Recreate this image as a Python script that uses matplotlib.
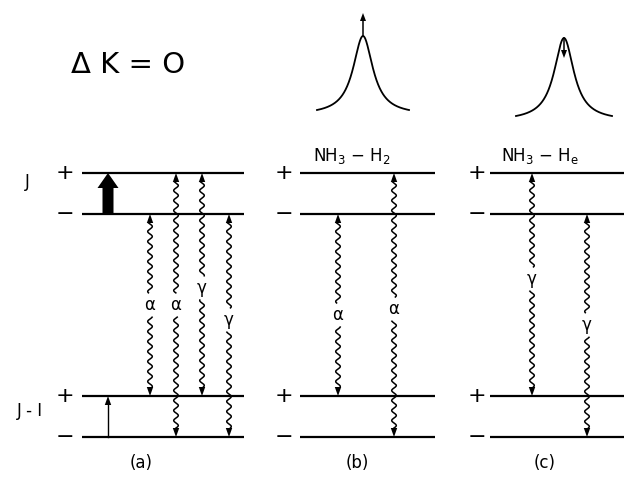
import numpy as np
import matplotlib
matplotlib.use("Agg")
import matplotlib.pyplot as plt
from matplotlib.patches import Polygon

# energy levels (top to bottom) and their vertical position on the page
levels = ["J+", "J-", "J-1+", "J-1-"]
level_y = [173, 214, 396, 437]
level_sign = ["+", "−", "+", "−"]

# panels: horizontal extent of the level lines and x of the +/- signs
panel_names = ["(a)", "(b)", "(c)"]
panel_x0 = [82, 300, 490]
panel_x1 = [244, 435, 624]
sign_x = [65, 284, 477]
panel_label_x = [141, 357, 545]
panel_titles = ["", r"NH$_3$ $-$ H$_2$", r"NH$_3$ $-$ H$_\mathrm{e}$"]
title_x = [0, 352, 540]

# relaxation (wavy) transitions: panel, x, upper level, lower level, label, label y
wavy_panel = [0, 0, 0, 0, 1, 1, 2, 2]
wavy_x = [150, 176, 202, 229, 338, 394, 532, 587]
wavy_top = ["J-", "J+", "J+", "J-", "J-", "J+", "J+", "J-"]
wavy_bot = ["J-1+", "J-1-", "J-1+", "J-1-", "J-1+", "J-1-", "J-1+", "J-1-"]
wavy_label = ["α", "α", "γ", "γ", "α", "α", "γ", "γ"]
wavy_label_y = [305, 305, 288, 320, 315, 309, 279, 325]

# line-shape sketches above (b) and (c): centre, half width, top, base
peak_cx = [363, 564]
peak_w = [12, 12]
peak_top = [36, 38]
peak_base = [110, 116]
peak_span = [46, 48]
peak_arrow_end = [13, 58]

fig = plt.figure(figsize=(6.25, 4.92), dpi=100)
ax = fig.add_axes([0, 0, 1, 1])
ax.set_xlim(0, 625)
ax.set_ylim(492, 0)
ax.axis("off")

lw = 1.6


def head(x, y, up, size=9, half=3.2):
    # small filled arrow head with tip at (x, y)
    d = size if up else -size
    ax.add_patch(Polygon([(x, y), (x - half, y + d), (x + half, y + d)],
                         closed=True, color="black", lw=0))


ly = dict(zip(levels, level_y))

# level lines and signs
for p in range(3):
    for yv, s in zip(level_y, level_sign):
        ax.plot([panel_x0[p], panel_x1[p]], [yv, yv], color="black", lw=lw,
                solid_capstyle="butt")
        ax.text(sign_x[p], yv, s, fontsize=16, ha="center", va="center")
    ax.text(panel_label_x[p], 463, panel_names[p], fontsize=12,
            ha="center", va="center")
    if panel_titles[p]:
        ax.text(title_x[p], 156, panel_titles[p], fontsize=12,
                ha="center", va="center")

ax.text(27, 182, "J", fontsize=12, ha="center", va="center")
ax.text(30, 411, "J - I", fontsize=12, ha="center", va="center")
ax.text(128, 65, "Δ K = O", fontsize=21, ha="center", va="center")

# pump arrow (thick) and signal arrow (thin) in (a)
ax.arrow(108, ly["J-"], 0, ly["J+"] - ly["J-"], width=11, head_width=21,
         head_length=15, length_includes_head=True, color="black", lw=0)
ax.plot([108, 108], [ly["J-1-"], ly["J-1+"] + 8], color="black", lw=1.0)
head(108, ly["J-1+"], up=True)

# wavy relaxation arrows
for i in range(len(wavy_x)):
    x0 = wavy_x[i]
    ya = ly[wavy_top[i]]
    yb = ly[wavy_bot[i]]
    yy = np.linspace(ya + 9, yb - 9, 600)
    xx = x0 + 2.3 * np.sin(2 * np.pi * (yy - ya) / 10.0)
    gap = np.abs(yy - wavy_label_y[i]) < 12
    xx = np.where(gap, np.nan, xx)
    ax.plot(xx, yy, color="black", lw=1.1)
    head(x0, ya, up=True)
    head(x0, yb, up=False)
    ax.text(x0, wavy_label_y[i], wavy_label[i], fontsize=12,
            ha="center", va="center")

# line-shape sketches
for k in range(2):
    dx = np.linspace(-peak_span[k], peak_span[k], 400)
    L = 1.0 / (1.0 + (dx / peak_w[k]) ** 2)
    Lend = 1.0 / (1.0 + (peak_span[k] / peak_w[k]) ** 2)
    A = (peak_base[k] - peak_top[k]) / (1.0 - Lend)
    yv = peak_top[k] + A * (1.0 - L)
    ax.plot(peak_cx[k] + dx, yv, color="black", lw=1.3)
    up = peak_arrow_end[k] < peak_top[k]
    tip = peak_arrow_end[k]
    stem_end = tip + 8 if up else tip - 8
    ax.plot([peak_cx[k], peak_cx[k]], [peak_top[k], stem_end],
            color="black", lw=1.1)
    head(peak_cx[k], tip, up=up, size=8, half=3.0)

fig.savefig("out.png", dpi=100)
